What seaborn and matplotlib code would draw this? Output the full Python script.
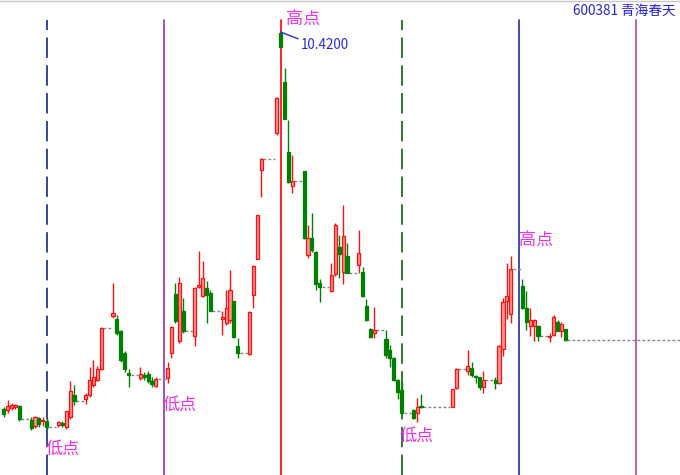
import matplotlib
matplotlib.use("Agg")
import matplotlib.pyplot as plt
import pandas as pd
import seaborn as sns

# Daily candles, x = calendar day index (weekends / holidays left empty)
days = [0, 1, 2, 3, 4, 7, 8, 9, 10, 11, 14, 15, 16, 17, 18, 21, 22, 23, 24, 25,
        28, 29, 30, 31, 32, 35, 36, 37, 38, 39, 42, 43, 44, 45, 46, 49, 50, 51, 52, 53,
        56, 57, 58, 59, 60, 63, 64, 65, 66, 70, 71, 72, 73, 74, 77, 78, 79, 80, 81,
        84, 85, 86, 87, 88, 91, 92, 93, 94, 95, 98, 99, 100, 101, 102, 105, 106, 107,
        115, 116, 119, 120, 121, 122, 123, 126, 127, 128, 129, 130, 133, 134, 135, 136, 137,
        140, 141, 142, 143, 144]
opens = [4.76, 4.75, 4.78, 4.80, 4.81, 4.60, 4.51, 4.63, 4.58, 4.59, 4.53, 4.56, 4.50, 4.65, 4.98,
         4.92, 4.98, 5.13, 5.20, 5.36, 6.16, 6.11, 5.93, 5.61, 5.31, 5.23, 5.28, 5.29, 5.18, 5.11,
         5.23, 5.60, 6.49, 5.79, 6.24, 5.86, 6.60, 6.46, 6.58, 6.51, 6.12, 6.05, 6.10, 6.38, 5.71,
         5.59, 6.48, 7.02, 8.35, 8.91, 10.41, 9.67, 8.62, 8.11, 8.33, 7.07, 7.33, 7.12, 6.65,
         6.54, 6.79, 7.20, 6.82, 7.06, 6.93, 6.82, 6.31, 5.96, 5.91, 5.81, 5.65, 5.53, 5.20, 5.05,
         4.75, 4.70, 4.81, 4.80, 5.08, 5.33, 5.38, 5.26, 5.24, 5.10, 5.20, 5.15, 5.66, 6.38, 6.19,
         6.61, 6.28, 6.01, 6.01, 6.01, 5.84, 5.88, 6.07, 5.93, 5.96]
highs = [4.79, 4.90, 4.86, 4.84, 4.82, 4.65, 4.66, 4.65, 4.65, 4.63, 4.59, 4.58, 4.74, 5.18, 5.13,
         5.01, 5.40, 5.50, 5.41, 5.99, 6.65, 6.18, 5.95, 5.64, 5.37, 5.40, 5.32, 5.34, 5.25, 5.24,
         5.47, 6.01, 6.65, 6.75, 6.43, 6.59, 7.13, 6.99, 6.68, 6.55, 6.23, 6.55, 6.85, 6.39, 5.83,
         6.23, 6.92, 7.68, 8.53, 9.44, 10.42, 9.88, 9.10, 8.57, 8.34, 7.52, 7.70, 7.13, 6.71,
         6.95, 7.55, 7.38, 7.83, 7.25, 7.45, 6.90, 6.42, 5.98, 6.29, 5.95, 5.73, 5.55, 5.21, 5.17,
         4.76, 4.93, 4.99, 5.07, 5.38, 5.65, 5.47, 5.28, 5.25, 5.34, 5.24, 5.72, 6.43, 6.95, 7.06,
         6.71, 6.54, 6.28, 6.11, 6.02, 5.90, 6.17, 6.10, 6.07, 5.97]
lows = [4.64, 4.70, 4.75, 4.77, 4.58, 4.45, 4.48, 4.50, 4.51, 4.46, 4.50, 4.50, 4.46, 4.62, 4.83,
        4.84, 4.95, 5.10, 5.18, 5.35, 6.13, 5.88, 5.47, 5.32, 5.10, 5.20, 5.20, 5.16, 5.09, 5.09,
        5.16, 5.53, 6.06, 5.76, 5.91, 5.71, 6.58, 6.45, 6.05, 6.23, 5.88, 6.03, 6.05, 5.83, 5.53,
        5.58, 6.28, 7.01, 7.95, 8.87, 10.19, 9.11, 8.15, 8.00, 7.32, 7.03, 7.12, 6.55, 6.37,
        6.52, 6.76, 6.73, 6.64, 6.80, 6.81, 6.44, 6.09, 5.83, 5.83, 5.53, 5.40, 5.19, 4.91, 4.69,
        4.62, 4.57, 4.78, 4.79, 5.06, 5.28, 5.25, 5.15, 5.05, 5.00, 5.06, 5.14, 5.56, 6.11, 6.05,
        6.26, 5.95, 5.86, 5.79, 5.79, 5.77, 5.86, 5.93, 5.85, 5.79]
closes = [4.69, 4.81, 4.83, 4.82, 4.61, 4.48, 4.65, 4.54, 4.60, 4.50, 4.57, 4.53, 4.73, 5.03, 4.88,
          4.98, 5.20, 5.25, 5.36, 5.98, 6.21, 5.90, 5.50, 5.36, 5.28, 5.29, 5.24, 5.18, 5.14, 5.21,
          5.38, 6.00, 6.09, 6.65, 5.93, 6.58, 6.63, 6.73, 6.48, 6.24, 6.14, 6.28, 6.55, 5.84, 5.60,
          6.22, 6.91, 7.67, 8.52, 9.43, 10.20, 9.12, 8.17, 8.18, 7.33, 7.33, 7.15, 6.64, 6.59,
          6.78, 7.53, 7.09, 7.36, 6.81, 7.10, 6.46, 6.10, 5.85, 5.95, 5.58, 5.53, 5.20, 5.02, 4.70,
          4.63, 4.79, 4.79, 5.06, 5.36, 5.41, 5.28, 5.24, 5.09, 5.20, 5.16, 5.71, 6.37, 6.46, 6.87,
          6.28, 6.07, 6.10, 6.10, 5.86, 5.86, 6.15, 5.94, 6.04, 5.80]

# Time-cycle lines (calendar day index)
cycle_days = [11, 41, 71, 102, 132, 162]
cycle_colors = ["#34469f", "#9a34a8", "#ff0000", "#2c7a2c", "#23309c", "#a24aaa"]
cycle_dashed = [True, False, False, True, False, False]

stock_title = "600381 青海春天"
peak_text = "10.4200"

sns.set_theme(style="white")
plt.rcParams["font.family"] = ["Noto Sans CJK SC", "DejaVu Sans"]

df = pd.DataFrame({"day": days, "open": opens, "high": highs, "low": lows, "close": closes})
df["up"] = df["close"] >= df["open"]
df["bottom"] = df[["open", "close"]].min(axis=1)
df["height"] = (df["close"] - df["open"]).abs().clip(lower=0.012)

RED, PINK, GREEN = "#ff1010", "#ff9494", "#008000"

fig = plt.figure(figsize=(6.8, 4.75), dpi=100)
ax = fig.add_axes([0, 0, 1, 1])
ax.set_xlim(-0.97, 173.4)
ax.set_ylim(3.775, 10.9)
ax.set_axis_off()

# top frame line
ax.axhline(10.9 - 0.015 * 1.2, color="#c8c8c8", lw=1.0, zorder=1)

# cycle lines
for d, c, dashed in zip(cycle_days, cycle_colors, cycle_dashed):
    ax.axvline(d, ymin=0, ymax=1 - 20 / 475, color=c,
               lw=1.4 if dashed else 1.2,
               linestyle=(0, (10.5, 3.8)) if dashed else "-", zorder=2)

# dashed connectors across non-trading days
GAP = "#858585"
for i in range(len(df) - 1):
    d0, d1 = df.day.iloc[i], df.day.iloc[i + 1]
    if d1 - d0 > 1:
        ax.hlines(df.close.iloc[i], d0 + 0.5, d1 - 0.5, color=GAP, lw=1.0,
                  linestyle=(0, (2.0, 1.6)), zorder=3)
ax.hlines(df.close.iloc[-1], df.day.iloc[-1] + 0.5, 173.4, color=GAP, lw=1.0,
          linestyle=(0, (2.0, 1.6)), zorder=3)

up = df[df.up]
dn = df[~df.up]
ax.vlines(up.day, up.low, up.high, color=RED, lw=1.0, zorder=4)
ax.vlines(dn.day, dn.low, dn.high, color=GREEN, lw=1.0, zorder=4)
ax.bar(up.day, up.height, bottom=up.bottom, width=0.8, color=PINK, edgecolor=RED,
       linewidth=0.9, zorder=5)
ax.bar(dn.day, dn.height, bottom=dn.bottom, width=0.8, color=GREEN, edgecolor=GREEN,
       linewidth=0.9, zorder=5)

# swing labels
MAG = "#f030f0"
for x, y, t in [(10.74, 4.165, "低点"), (40.82, 4.83, "低点"), (72.28, 10.60, "高点"),
                (101.5, 4.36, "低点"), (132.1, 7.285, "高点")]:
    ax.text(x, y, t, color=MAG, fontsize=12.3, ha="left", va="center", zorder=6)

# peak value callout
peak_i = df.high.idxmax()
ax.annotate(peak_text, xy=(df.day[peak_i], df.high[peak_i]), xytext=(76.3, 10.225),
            color="#2a2ae0", fontsize=9.7, ha="left", va="center",
            arrowprops=dict(arrowstyle="-", color="#2a2ae0", lw=1.0,
                            shrinkA=0, shrinkB=0, relpos=(0, 0.85)), zorder=6)

ax.text(0.994, 0.977, stock_title, transform=ax.transAxes, color="#2424d8",
        fontsize=9.8, ha="right", va="center")

fig.savefig("out.png", dpi=100, facecolor="white")
